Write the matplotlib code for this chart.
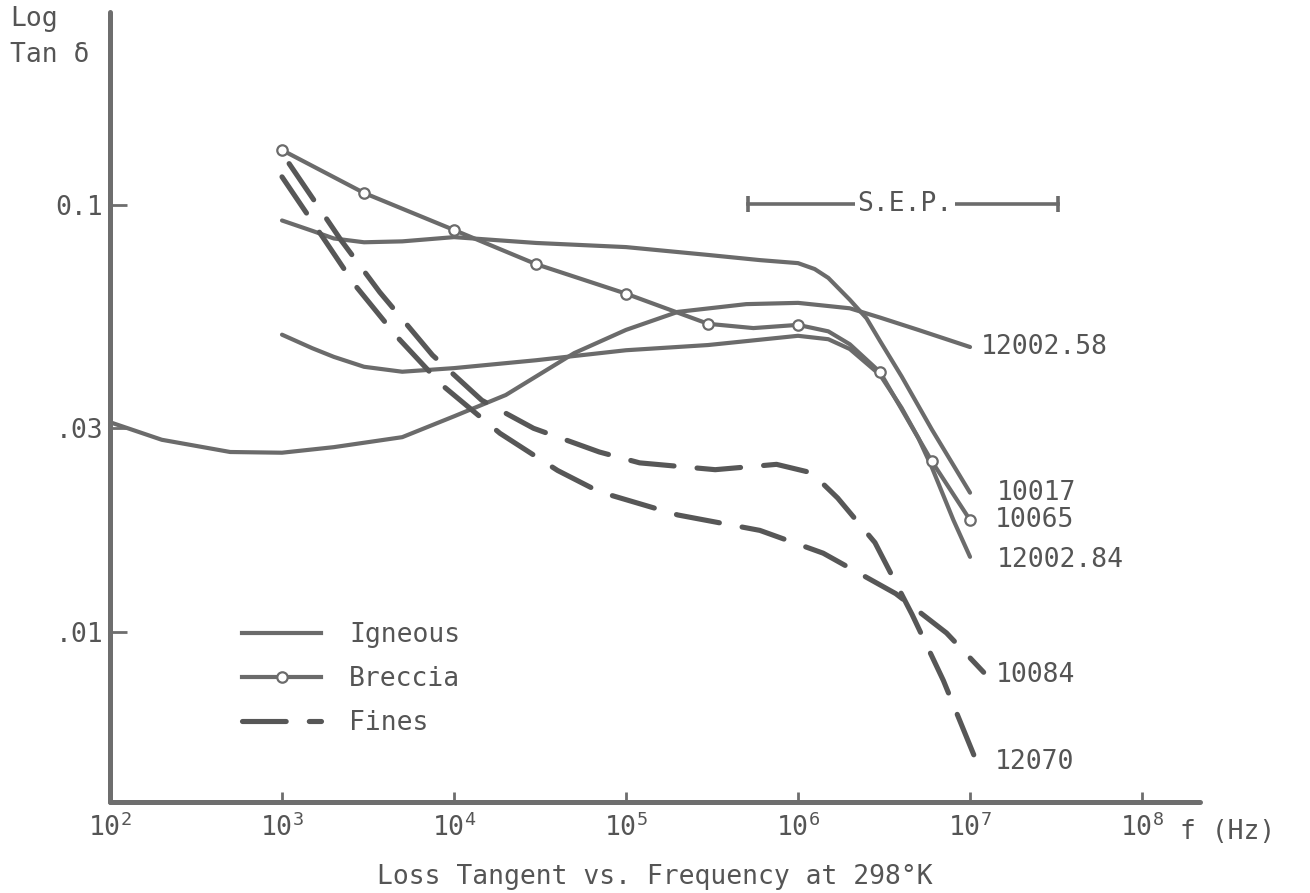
"""Loss tangent vs. frequency for lunar samples (igneous, breccia, fines)."""

import matplotlib
matplotlib.use("Agg")
import matplotlib.pyplot as plt
from matplotlib.lines import Line2D
from matplotlib.ticker import FixedLocator, NullLocator

# --- data (frequency in Hz, tan delta) ---
ign_5258_f = [1e2, 2e2, 5e2, 1e3, 2e3, 5e3, 1e4, 2e4, 5e4, 1e5, 2e5, 5e5,
              1e6, 2e6, 3e6, 5e6, 1e7]
ign_5258_v = [0.0310, 0.0282, 0.0264, 0.0263, 0.0271, 0.0286, 0.0320, 0.0359,
              0.0450, 0.0510, 0.0562, 0.0586, 0.0590, 0.0573, 0.0545, 0.0510,
              0.0465]

ign_10017_f = [1e3, 1.5e3, 2e3, 3e3, 5e3, 1e4, 3e4, 1e5, 3e5, 6e5, 1e6, 1.25e6,
               1.5e6, 2e6, 2.5e6, 3e6, 4e6, 6e6, 1e7]
ign_10017_v = [0.092, 0.087, 0.0835, 0.0818, 0.0822, 0.0841, 0.0815, 0.0797,
               0.0764, 0.0743, 0.0731, 0.0708, 0.0675, 0.060, 0.0543, 0.048,
               0.0397, 0.0298, 0.0212]

ign_5284_f = [1e3, 1.5e3, 2e3, 3e3, 5e3, 1e4, 3e4, 1e5, 3e5, 1e6, 1.5e6, 2e6,
              3e6, 4e6, 5e6, 6e6, 8e6, 1e7]
ign_5284_v = [0.0497, 0.0462, 0.0441, 0.0418, 0.0407, 0.0415, 0.0433, 0.0457,
              0.047, 0.0494, 0.0485, 0.0460, 0.040, 0.0335, 0.0285, 0.0243,
              0.0183, 0.015]

brec_10065_f = [1e3, 3e3, 1e4, 3e4, 1e5, 3e5, 5.5e5, 1e6, 1.5e6, 2e6, 3e6,
                6e6, 1e7]
brec_10065_v = [0.1345, 0.1067, 0.0874, 0.0727, 0.062, 0.0527, 0.0515, 0.0524,
                0.0506, 0.0472, 0.0406, 0.0251, 0.0183]
brec_marks = [0, 1, 2, 3, 4, 5, 7, 10, 11, 12]

fines_12070_f = [1.1e3, 1.5e3, 2.2e3, 3.7e3, 7.5e3, 1.45e4, 2.9e4, 7e4, 1.2e5,
                 3.3e5, 7.5e5, 1.2e6, 1.7e6, 2.8e6, 4.6e6, 7e6, 1.07e7]
fines_12070_v = [0.125, 0.104, 0.0828, 0.0625, 0.0445, 0.0349, 0.0300, 0.0264,
                 0.0249, 0.0240, 0.0247, 0.0236, 0.0206, 0.0162, 0.0110,
                 0.0077, 0.00507]

fines_10084_f = [1e3, 1.45e3, 2.65e3, 4.67e3, 8.5e3, 1.85e4, 4e4, 7e4, 2e5,
                 6e5, 1.4e6, 3.7e6, 7.3e6, 1.2e7]
fines_10084_v = [0.1164, 0.0933, 0.065, 0.0491, 0.0379, 0.0292, 0.0239,
                 0.0213, 0.0188, 0.0173, 0.0153, 0.0123, 0.00995, 0.00805]

sep_f = [5.1e5, 3.25e7]
sep_v = [0.1005, 0.1005]

y_ticks = [0.1, 0.03, 0.01]
y_labels = ["0.1", ".03", ".01"]
x_ticks = [1e2, 1e3, 1e4, 1e5, 1e6, 1e7, 1e8]
x_labels = ["10$^{%d}$" % k for k in range(2, 9)]

# --- style ---
LINE = "#6b6b6b"
DASH = "#575757"
TEXT = "#555555"
FS = 19

plt.rcParams["font.family"] = ["DejaVu Sans Mono", "DejaVu Sans"]
plt.rcParams["mathtext.default"] = "regular"

fig = plt.figure(figsize=(13.1, 8.93), dpi=100)
ax = fig.add_axes([110 / 1310, 91 / 893, 1090 / 1310, 790 / 893])
ax.set_xscale("log")
ax.set_yscale("log")
ax.set_xlim(1e2, 10 ** 8.337)
ax.set_ylim(10 ** -2.398, 10 ** -0.548)

solid = dict(color=LINE, lw=3.0, solid_capstyle="round", solid_joinstyle="round")
ax.plot(ign_5258_f, ign_5258_v, **solid)
ax.plot(ign_10017_f, ign_10017_v, **solid)
ax.plot(ign_5284_f, ign_5284_v, **solid)
ax.plot(brec_10065_f, brec_10065_v, marker="o", markevery=brec_marks,
        ms=7.5, mfc="white", mec=LINE, mew=1.6, **solid)

dashed = dict(color=DASH, lw=3.7, dashes=(8.5, 4.5), dash_capstyle="round")
ax.plot(fines_12070_f, fines_12070_v, **dashed)
ax.plot(fines_10084_f, fines_10084_v, **dashed)

# curve end labels
ends = [
    ("12002.58", ign_5258_f, ign_5258_v, (8, 0)),
    ("10017", ign_10017_f, ign_10017_v, (19, 0)),
    ("10065", brec_10065_f, brec_10065_v, (18, 0)),
    ("12002.84", ign_5284_f, ign_5284_v, (19, -2)),
    ("10084", fines_10084_f, fines_10084_v, (9, -2)),
    ("12070", fines_12070_f, fines_12070_v, (14, -3)),
]
for name, fx, fv, off in ends:
    ax.annotate(name, xy=(fx[-1], fv[-1]), xytext=off, textcoords="offset points",
                ha="left", va="center", fontsize=FS, color=TEXT)

# S.E.P. bar
ax.plot(sep_f, sep_v, color=LINE, lw=2.6, marker="|", ms=12, mew=2.6)
ax.text(4.2e6, sep_v[0], "S.E.P.", ha="center", va="center", fontsize=FS,
        color=TEXT, bbox=dict(facecolor="white", edgecolor="none", pad=1.5))

# axes styling
for side in ("top", "right"):
    ax.spines[side].set_visible(False)
for side in ("left", "bottom"):
    ax.spines[side].set_linewidth(3.6)
    ax.spines[side].set_color("#6e6e6e")
    ax.spines[side].set_capstyle("round")

ax.xaxis.set_major_locator(FixedLocator(x_ticks))
ax.xaxis.set_minor_locator(NullLocator())
ax.set_xticklabels(x_labels)
ax.yaxis.set_major_locator(FixedLocator(y_ticks))
ax.yaxis.set_minor_locator(NullLocator())
ax.set_yticklabels(y_labels)
ax.tick_params(axis="x", direction="in", length=7, width=2, colors="#6e6e6e",
               labelcolor=TEXT, labelsize=FS, pad=8)
ax.tick_params(axis="y", direction="in", length=12, width=2, colors="#6e6e6e",
               labelcolor=TEXT, labelsize=FS, pad=5)

# legend
handles = [
    Line2D([], [], color=LINE, lw=3.0),
    Line2D([], [], color=LINE, lw=3.0, marker="o", ms=7.5, mfc="white",
           mec=LINE, mew=1.6),
    Line2D([], [], **dashed),
]
ax.legend(handles, ["Igneous", "Breccia", "Fines"], loc="upper left",
          bbox_to_anchor=(242 / 1310, 1 - 622 / 893),
          bbox_transform=fig.transFigure, frameon=False, borderpad=0,
          borderaxespad=0, handlelength=3.0, handletextpad=1.05,
          labelspacing=0.69, numpoints=1, fontsize=FS, labelcolor=TEXT)

# free texts
fig.text(10 / 1310, 1 - 6 / 893, "Log\nTan δ", ha="left", va="top",
         fontsize=FS, color=TEXT, linespacing=1.5)
fig.text(1180 / 1310, 1 - 832 / 893, "f (Hz)", ha="left", va="center",
         fontsize=FS, color=TEXT)
fig.text(655 / 1310, 1 - 877 / 893, "Loss Tangent vs. Frequency at 298°K",
         ha="center", va="center", fontsize=FS, color=TEXT)

fig.savefig("out.png", dpi=100)
